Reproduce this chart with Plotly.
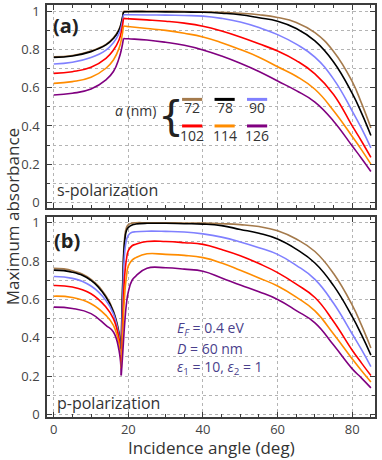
import plotly.graph_objects as go

# lattice periods a (nm) and line colours
periods = ["72", "78", "90", "102", "114", "126"]
colors = ["#a47a4c", "#000000", "#8080ff", "#ff0000", "#ff8c00", "#800080"]

# ---- (a) s-polarization ----
s_ang_left = [0, 5, 10, 14, 16, 17.5, 18.2, 18.7]
s_left = {
    "72":  [0.762, 0.769, 0.792, 0.827, 0.861, 0.905, 0.950, 1.000],
    "78":  [0.759, 0.766, 0.789, 0.824, 0.858, 0.902, 0.945, 0.997],
    "90":  [0.724, 0.733, 0.758, 0.797, 0.836, 0.884, 0.928, 0.982],
    "102": [0.675, 0.684, 0.707, 0.754, 0.797, 0.850, 0.900, 0.963],
    "114": [0.623, 0.632, 0.655, 0.702, 0.745, 0.806, 0.860, 0.923],
    "126": [0.562, 0.571, 0.593, 0.641, 0.685, 0.754, 0.805, 0.858],
}
s_ang_right = [18.7, 20, 25, 30, 35, 40, 45, 50, 55, 60, 65, 70, 75, 80, 82.5, 85]
s_right = {
    "72":  [1.000, 1.000, 1.000, 1.000, 0.999, 0.997, 0.995, 0.990, 0.982, 0.968, 0.942, 0.888, 0.790, 0.632, 0.518, 0.390],
    "78":  [0.997, 0.998, 0.998, 0.997, 0.996, 0.995, 0.990, 0.982, 0.966, 0.948, 0.910, 0.845, 0.735, 0.570, 0.467, 0.350],
    "90":  [0.982, 0.982, 0.981, 0.980, 0.978, 0.975, 0.963, 0.944, 0.915, 0.878, 0.828, 0.760, 0.645, 0.478, 0.387, 0.285],
    "102": [0.963, 0.961, 0.955, 0.948, 0.938, 0.922, 0.897, 0.866, 0.830, 0.792, 0.742, 0.673, 0.565, 0.400, 0.320, 0.235],
    "114": [0.923, 0.920, 0.910, 0.900, 0.885, 0.866, 0.836, 0.800, 0.760, 0.710, 0.660, 0.592, 0.480, 0.345, 0.275, 0.200],
    "126": [0.858, 0.856, 0.850, 0.838, 0.822, 0.798, 0.766, 0.728, 0.685, 0.635, 0.585, 0.525, 0.425, 0.295, 0.230, 0.162],
}

# ---- (b) p-polarization ----
p_ang_left = [0, 5, 10, 14, 16, 17.5, 18.1]
p_left = {
    "72":  [0.762, 0.750, 0.705, 0.618, 0.540, 0.430, 0.355],
    "78":  [0.753, 0.742, 0.699, 0.612, 0.534, 0.420, 0.343],
    "90":  [0.720, 0.710, 0.670, 0.595, 0.525, 0.410, 0.310],
    "102": [0.673, 0.665, 0.630, 0.560, 0.500, 0.395, 0.275],
    "114": [0.617, 0.610, 0.578, 0.517, 0.465, 0.369, 0.240],
    "126": [0.560, 0.553, 0.526, 0.465, 0.430, 0.334, 0.204],
}
p_ang_right = [18.1, 18.5, 19, 19.5, 20, 21, 22, 25, 30, 35, 40, 45, 50, 55, 60, 65, 70, 75, 80, 82.5, 85]
p_right = {
    "72":  [0.355, 0.700, 0.920, 0.975, 0.990, 0.998, 1.000, 1.000, 1.000, 0.999, 0.998, 0.995, 0.990, 0.980, 0.958, 0.915, 0.850, 0.735, 0.570, 0.465, 0.347],
    "78":  [0.343, 0.680, 0.900, 0.960, 0.976, 0.988, 0.993, 0.997, 0.997, 0.995, 0.993, 0.985, 0.965, 0.945, 0.915, 0.862, 0.790, 0.672, 0.510, 0.415, 0.310],
    "90":  [0.310, 0.600, 0.840, 0.910, 0.935, 0.950, 0.953, 0.956, 0.955, 0.952, 0.942, 0.925, 0.900, 0.870, 0.835, 0.778, 0.705, 0.580, 0.420, 0.338, 0.250],
    "102": [0.275, 0.500, 0.720, 0.810, 0.855, 0.880, 0.888, 0.902, 0.902, 0.896, 0.887, 0.860, 0.828, 0.787, 0.740, 0.680, 0.610, 0.485, 0.335, 0.268, 0.203],
    "114": [0.240, 0.420, 0.620, 0.720, 0.775, 0.805, 0.818, 0.838, 0.835, 0.830, 0.818, 0.790, 0.752, 0.712, 0.670, 0.612, 0.540, 0.420, 0.290, 0.228, 0.170],
    "126": [0.204, 0.320, 0.470, 0.580, 0.640, 0.700, 0.722, 0.763, 0.765, 0.758, 0.747, 0.712, 0.675, 0.640, 0.600, 0.542, 0.478, 0.362, 0.238, 0.190, 0.139],
}

fig = go.Figure()

for yax, xax, segs in [("y", "x", [(s_ang_left, s_left), (s_ang_right, s_right)]),
                       ("y2", "x2", [(p_ang_left, p_left), (p_ang_right, p_right)])]:
    for ang, vals in segs:
        for name, col in zip(periods, colors):
            fig.add_trace(go.Scatter(x=ang, y=vals[name], mode="lines", xaxis=xax, yaxis=yax,
                                     line=dict(color=col, width=1.6, shape="spline", smoothing=1.3),
                                     showlegend=False, hoverinfo="skip"))

grid = "#b4b4b4"
frame = "#3c3c3c"
tickfont = dict(family="Open Sans", size=13, color="#444")

xcommon = dict(range=[-1.8, 86.1], showline=True, linecolor=frame, linewidth=1.6, mirror="allticks",
               ticks="inside", ticklen=5, tickcolor=frame, tickwidth=1, dtick=20, tick0=0,
               showgrid=True, gridcolor=grid, griddash="dot", gridwidth=1, zeroline=False,
               minor=dict(dtick=5, ticks="inside", ticklen=3, tickcolor=frame, showgrid=False),
               tickfont=tickfont, automargin=False)
ycommon = dict(showline=True, linecolor=frame, linewidth=1.6, mirror="allticks",
               ticks="inside", ticklen=5, tickcolor=frame, tickwidth=1,
               tickvals=[0, 0.2, 0.4, 0.6, 0.8, 1], ticktext=["0", "0.2", "0.4", "0.6", "0.8", "1"],
               showgrid=True, gridcolor=grid, griddash="dot", gridwidth=1, zeroline=False,
               minor=dict(dtick=0.1, tick0=0, ticks="inside", ticklen=3, tickcolor=frame,
                          showgrid=True, gridcolor=grid, griddash="dot", gridwidth=1),
               tickfont=tickfont, ticklabelstandoff=3, automargin=False)

fig.update_layout(
    width=382, height=460,
    margin=dict(l=47, r=7, t=5, b=43, autoexpand=False),
    paper_bgcolor="white", plot_bgcolor="white",
    font=dict(family="Open Sans", color="#333"),
    xaxis=dict(xcommon, anchor="y", domain=[0, 1], showticklabels=False),
    yaxis=dict(ycommon, anchor="x", domain=[0.507, 1], range=[-0.03, 1.033]),
    xaxis2=dict(xcommon, anchor="y2", domain=[0, 1], matches="x"),
    yaxis2=dict(ycommon, anchor="x2", domain=[0, 0.485], range=[-0.013, 1.029]),
)

ann = []
ann.append(dict(x=3.3, y=0.928, xref="x", yref="y", text="<b>(a)</b>", showarrow=False,
                font=dict(size=20, color="#222")))
ann.append(dict(x=3.5, y=0.909, xref="x2", yref="y2", text="<b>(b)</b>", showarrow=False,
                font=dict(size=20, color="#222")))
ann.append(dict(x=0.3, y=0.064, xref="x", yref="y", text="s-polarization", showarrow=False,
                xanchor="left", font=dict(size=16, color="#333")))
ann.append(dict(x=0.3, y=0.058, xref="x2", yref="y2", text="p-polarization", showarrow=False,
                xanchor="left", font=dict(size=16, color="#333")))

# legend block inside (a)
fig.add_shape(type="rect", xref="x", yref="y", x0=15.7, x1=58.6, y0=0.31, y1=0.59,
              fillcolor="white", line=dict(width=0), layer="below")
ann.append(dict(x=21.9, y=0.4825, xref="x", yref="y", text="<i>a</i> (nm)", showarrow=False,
                font=dict(size=14, color="#333")))
ann.append(dict(x=31.4, y=0.452, xref="x", yref="y", text="{", showarrow=False,
                font=dict(size=41, color="#222", family="DejaVu Sans")))
col_x = [37.1, 45.8, 54.5]
row_line_y = [0.539, 0.400]
row_lab_y = [0.494, 0.352]
for i, (name, col) in enumerate(zip(periods, colors)):
    r, c = divmod(i, 3)
    fig.add_shape(type="line", xref="x", yref="y", x0=col_x[c] - 2.7, x1=col_x[c] + 2.7,
                  y0=row_line_y[r], y1=row_line_y[r], line=dict(color=col, width=3))
    ann.append(dict(x=col_x[c], y=row_lab_y[r], xref="x", yref="y", text=name, showarrow=False,
                    font=dict(size=14, color="#333")))

# parameters inside (b)
pcol = "#4a3f8c"
for txt, yy in [("<i>E</i><sub><i>F</i></sub> = 0.4 eV", 0.45),
                ("<i>D</i> = 60 nm", 0.346),
                ("<i>ε</i><sub>1</sub> = 10, <i>ε</i><sub>2</sub> = 1", 0.247)]:
    ann.append(dict(x=32.5, y=yy, xref="x2", yref="y2", text=txt, showarrow=False, xanchor="left",
                    font=dict(size=14, color=pcol)))

# axis titles
ann.append(dict(x=-0.107, y=0.487, xref="paper", yref="paper", text="Maximum absorbance",
                showarrow=False, textangle=-90, xanchor="center", yanchor="middle",
                font=dict(size=17, color="#333")))
ann.append(dict(x=0.5, y=-0.073, xref="paper", yref="paper", text="Incidence angle (deg)",
                showarrow=False, xanchor="center", yanchor="middle",
                font=dict(size=17, color="#333")))
fig.update_layout(annotations=ann)

# drop the default page margin so the figure sits at the window's corner
fig.write_html("out.html", config={"displayModeBar": False},
               post_script="document.body.style.margin='0';")
